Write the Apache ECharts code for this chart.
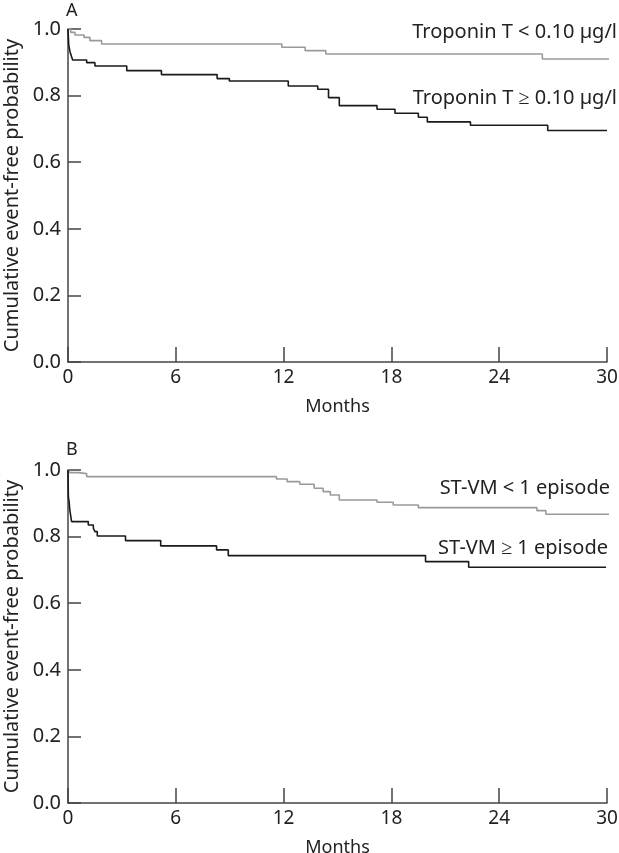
<!DOCTYPE html>
<html>
<head>
<meta charset="utf-8">
<script src="https://cdn.jsdelivr.net/npm/echarts@6/dist/echarts.min.js"></script>
<style>
  html, body { margin: 0; padding: 0; background: #fff; }
  #chart { width: 619px; height: 853px; }
</style>
</head>
<body>
<div id="chart"></div>
<script>
// months / survival
const tropLowT = [0, 0.15, 0.39, 0.89, 1.22, 1.87, 11.9, 13.2, 14.35, 26.4, 30.5];
const tropLowS = [1.0, 0.99, 0.982, 0.975, 0.965, 0.955, 0.945, 0.935, 0.925, 0.91, 0.91];
const tropHighT = [0, 0.04, 0.11, 0.2, 0.26, 1.04, 1.5, 3.27, 5.2, 8.3, 8.98, 12.26, 13.9, 14.5, 15.1, 17.2, 18.2, 19.5, 20.0, 22.4, 26.7, 30.0];
const tropHighS = [1.0, 0.952, 0.932, 0.917, 0.907, 0.899, 0.889, 0.875, 0.863, 0.851, 0.844, 0.829, 0.819, 0.794, 0.77, 0.759, 0.747, 0.735, 0.721, 0.711, 0.695, 0.695];
const stLowT = [0, 0.1, 0.57, 1.04, 11.6, 12.2, 12.9, 13.7, 14.2, 14.6, 15.1, 17.2, 18.1, 19.5, 26.1, 26.6, 30.5];
const stLowS = [1.0, 0.992, 0.989, 0.98, 0.973, 0.965, 0.957, 0.945, 0.935, 0.925, 0.91, 0.903, 0.895, 0.887, 0.878, 0.867, 0.867];
const stHighT = [0, 0.02, 0.06, 0.1, 0.2, 1.13, 1.41, 1.5, 1.63, 3.2, 5.16, 8.27, 8.92, 19.9, 22.3, 29.95];
const stHighS = [1.0, 0.92, 0.905, 0.88, 0.845, 0.835, 0.825, 0.815, 0.802, 0.788, 0.772, 0.76, 0.743, 0.725, 0.708, 0.708];

const labelsA = ["Troponin T < 0.10 \u00b5g/l", "Troponin T \u2265 0.10 \u00b5g/l"];
const labelsB = ["ST-VM < 1 episode", "ST-VM \u2265 1 episode"];

const font = "Noto Sans";
const axisColor = "#444";
const textColor = "#222";

const zip = (t, s) => t.map((v, i) => [v, s[i]]);

const makeX = (idx) => ({
    type: "value", gridIndex: idx, min: 0, max: 30, interval: 6,
    name: "Months", nameLocation: "middle", nameGap: 36,
    nameTextStyle: { fontFamily: font, fontSize: 18, color: textColor },
    axisLine: { lineStyle: { color: axisColor, width: 1.5 } },
    axisTick: { inside: true, length: 15, lineStyle: { color: axisColor, width: 1.5 } },
    axisLabel: { fontFamily: font, fontSize: 19, color: textColor, margin: 6 },
    splitLine: { show: false },
});
const makeY = (idx) => ({
    type: "value", gridIndex: idx, min: 0, max: 1, interval: 0.2,
    name: "Cumulative event-free probability", nameLocation: "middle", nameGap: 46,
    nameTextStyle: { fontFamily: font, fontSize: 20, color: textColor },
    axisLine: { show: true, lineStyle: { color: axisColor, width: 1.5 } },
    axisTick: { show: true, inside: true, length: 13, lineStyle: { color: axisColor, width: 1.5 } },
    axisLabel: { fontFamily: font, fontSize: 20, color: textColor, margin: 7,
        formatter: (v) => v.toFixed(1) },
    splitLine: { show: false },
});
const makeLine = (idx, t, s, color) => ({
    type: "line", xAxisIndex: idx, yAxisIndex: idx, step: "end",
    data: zip(t, s), showSymbol: false, clip: false, silent: true,
    lineStyle: { color: color, width: 1.6 },
});
const label = (text, x, y) => ({
    type: "text", x: x, y: y,
    style: { text: text, fontFamily: font, fontSize: 20, fill: textColor,
        textAlign: "right", textVerticalAlign: "middle" },
});

const chart = echarts.init(document.getElementById("chart"));
chart.setOption({
    backgroundColor: "#fff",
    animation: false,
    grid: [
        { left: 68, top: 29, width: 539, height: 333, containLabel: false, outerBoundsMode: "none" },
        { left: 68, top: 470, width: 539, height: 333, containLabel: false, outerBoundsMode: "none" },
    ],
    xAxis: [makeX(0), makeX(1)],
    yAxis: [makeY(0), makeY(1)],
    series: [
        makeLine(0, tropLowT, tropLowS, "#9a9a9a"),
        makeLine(0, tropHighT, tropHighS, "#1a1a1a"),
        makeLine(1, stLowT, stLowS, "#9a9a9a"),
        makeLine(1, stHighT, stHighS, "#1a1a1a"),
    ],
    graphic: [
        { type: "text", x: 66, y: 2, style: { text: "A", fontFamily: font, fontSize: 18, fill: textColor } },
        { type: "text", x: 66, y: 441, style: { text: "B", fontFamily: font, fontSize: 18, fill: textColor } },
        label(labelsA[0], 617, 32),
        label(labelsA[1], 617, 98),
        label(labelsB[0], 610, 488),
        label(labelsB[1], 608, 548),
    ],
});
</script>
</body>
</html>
